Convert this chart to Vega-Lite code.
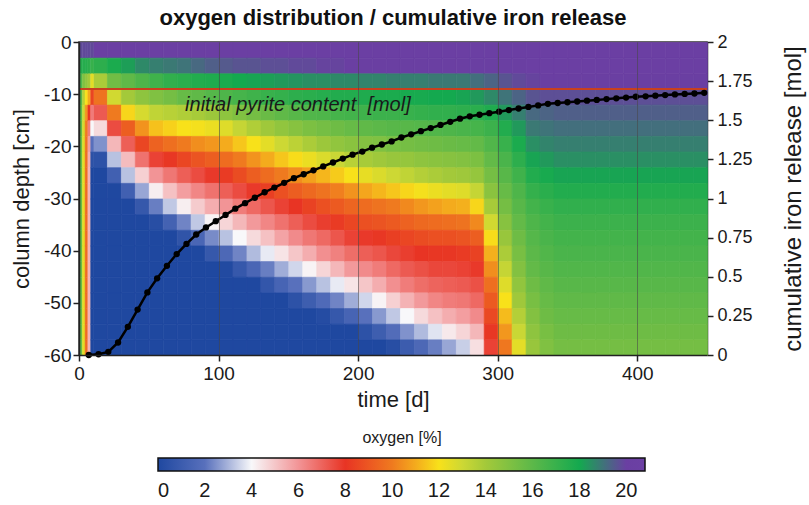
{
"$schema": "https://vega.github.io/schema/vega-lite/v6.json",
"width": 628, "height": 313,
"autosize": {"type": "none"},
"padding": {"left": 79, "top": 42, "right": 102, "bottom": 150},
"background": "white",
"title": {"text": "oxygen distribution / cumulative iron release", "fontSize": 22, "font": "Liberation Sans", "fontWeight": "bold", "color": "#111111", "anchor": "middle", "offset": 3},
"config": {
  "font": "Liberation Sans",
  "view": {"stroke": "#333333", "strokeWidth": 1.5},
  "axis": {"labelFont": "Liberation Sans", "titleFont": "Liberation Sans", "labelFontSize": 19, "titleFontSize": 22, "titleFontWeight": "normal", "labelColor": "#1a1a1a", "titleColor": "#1a1a1a", "domainColor": "#222222", "domainWidth": 1.5, "tickColor": "#222222", "tickWidth": 1.5, "tickSize": 6, "grid": false, "labelOverlap": false}
},
"datasets": {
"pyr": [{"v": 1.7}],
"lab": [{"t": 76, "v": 1.6, "label": "initial pyrite content\u00a0 [mol]"}],
"iron": [
{"t":7,"v":0},{"t":14,"v":0.005},{"t":21,"v":0.02},{"t":28,"v":0.08},{"t":35,"v":0.18},{"t":42,"v":0.29},{"t":49,"v":0.4},{"t":56,"v":0.49},{"t":63,"v":0.57},{"t":70,"v":0.645},{"t":77,"v":0.71},{"t":84,"v":0.77},{"t":91,"v":0.815},{"t":98,"v":0.855},{"t":105,"v":0.895},{"t":112,"v":0.935},{"t":119,"v":0.97},{"t":126,"v":1.005},{"t":133,"v":1.04},{"t":140,"v":1.07},{"t":147,"v":1.1},{"t":154,"v":1.13},{"t":161,"v":1.155},{"t":168,"v":1.18},{"t":175,"v":1.205},{"t":182,"v":1.23},{"t":189,"v":1.255},{"t":196,"v":1.28},{"t":203,"v":1.3},{"t":210,"v":1.325},{"t":217,"v":1.345},{"t":224,"v":1.365},{"t":231,"v":1.39},{"t":238,"v":1.41},{"t":245,"v":1.43},{"t":252,"v":1.45},{"t":259,"v":1.47},{"t":266,"v":1.49},{"t":273,"v":1.51},{"t":280,"v":1.525},{"t":287,"v":1.535},{"t":294,"v":1.545},{"t":301,"v":1.555},{"t":308,"v":1.565},{"t":315,"v":1.575},{"t":322,"v":1.585},{"t":329,"v":1.595},{"t":336,"v":1.605},{"t":343,"v":1.61},{"t":350,"v":1.615},{"t":357,"v":1.62},{"t":364,"v":1.625},{"t":371,"v":1.63},{"t":378,"v":1.635},{"t":385,"v":1.64},{"t":392,"v":1.645},{"t":399,"v":1.65},{"t":406,"v":1.653},{"t":413,"v":1.657},{"t":420,"v":1.661},{"t":427,"v":1.665},{"t":434,"v":1.668},{"t":441,"v":1.671},{"t":448,"v":1.675}
],
"strip": [
{"t":1,"d":-1.5,"o":19.8},{"t":1,"d":-4.5,"o":17.5},{"t":1,"d":-7.5,"o":16.5},{"t":1,"d":-10.5,"o":16.3},{"t":1,"d":-13.5,"o":16.2},{"t":1,"d":-16.5,"o":16.1},{"t":1,"d":-19.5,"o":16},{"t":1,"d":-22.5,"o":16},{"t":1,"d":-25.5,"o":16},{"t":1,"d":-28.5,"o":16},{"t":1,"d":-31.5,"o":16},{"t":1,"d":-34.5,"o":16},{"t":1,"d":-37.5,"o":16},{"t":1,"d":-40.5,"o":16},{"t":1,"d":-43.5,"o":16},{"t":1,"d":-46.5,"o":16},{"t":1,"d":-49.5,"o":16},{"t":1,"d":-52.5,"o":16},{"t":1,"d":-55.5,"o":16},{"t":1,"d":-58.5,"o":16},
{"t":3,"d":-1.5,"o":19.8},{"t":3,"d":-4.5,"o":17.5},{"t":3,"d":-7.5,"o":15},{"t":3,"d":-10.5,"o":13.5},{"t":3,"d":-13.5,"o":13},{"t":3,"d":-16.5,"o":12.8},{"t":3,"d":-19.5,"o":12.6},{"t":3,"d":-22.5,"o":12.5},{"t":3,"d":-25.5,"o":12.5},{"t":3,"d":-28.5,"o":12.5},{"t":3,"d":-31.5,"o":12.5},{"t":3,"d":-34.5,"o":12.5},{"t":3,"d":-37.5,"o":12.5},{"t":3,"d":-40.5,"o":12.5},{"t":3,"d":-43.5,"o":12.5},{"t":3,"d":-46.5,"o":12.5},{"t":3,"d":-49.5,"o":12.5},{"t":3,"d":-52.5,"o":12.5},{"t":3,"d":-55.5,"o":12.5},{"t":3,"d":-58.5,"o":12.5},
{"t":5,"d":-1.5,"o":19.8},{"t":5,"d":-4.5,"o":17.5},{"t":5,"d":-7.5,"o":14.5},{"t":5,"d":-10.5,"o":12},{"t":5,"d":-13.5,"o":10.5},{"t":5,"d":-16.5,"o":10},{"t":5,"d":-19.5,"o":9.8},{"t":5,"d":-22.5,"o":9.7},{"t":5,"d":-25.5,"o":9.6},{"t":5,"d":-28.5,"o":9.6},{"t":5,"d":-31.5,"o":9.6},{"t":5,"d":-34.5,"o":9.6},{"t":5,"d":-37.5,"o":9.6},{"t":5,"d":-40.5,"o":9.6},{"t":5,"d":-43.5,"o":9.6},{"t":5,"d":-46.5,"o":9.6},{"t":5,"d":-49.5,"o":9.6},{"t":5,"d":-52.5,"o":9.6},{"t":5,"d":-55.5,"o":9.6},{"t":5,"d":-58.5,"o":9.6},
{"t":7,"d":-1.5,"o":19.8},{"t":7,"d":-4.5,"o":17.3},{"t":7,"d":-7.5,"o":14},{"t":7,"d":-10.5,"o":11},{"t":7,"d":-13.5,"o":8},{"t":7,"d":-16.5,"o":6.5},{"t":7,"d":-19.5,"o":5.8},{"t":7,"d":-22.5,"o":5.5},{"t":7,"d":-25.5,"o":5.4},{"t":7,"d":-28.5,"o":5.4},{"t":7,"d":-31.5,"o":5.4},{"t":7,"d":-34.5,"o":5.4},{"t":7,"d":-37.5,"o":5.4},{"t":7,"d":-40.5,"o":5.4},{"t":7,"d":-43.5,"o":5.4},{"t":7,"d":-46.5,"o":5.4},{"t":7,"d":-49.5,"o":5.4},{"t":7,"d":-52.5,"o":5.4},{"t":7,"d":-55.5,"o":5.4},{"t":7,"d":-58.5,"o":5.4},
{"t":9,"d":-1.5,"o":19.8},{"t":9,"d":-4.5,"o":17},{"t":9,"d":-7.5,"o":12.5},{"t":9,"d":-10.5,"o":8.5},{"t":9,"d":-13.5,"o":6.5},{"t":9,"d":-16.5,"o":4},{"t":9,"d":-19.5,"o":2},{"t":9,"d":-22.5,"o":0.5},{"t":9,"d":-25.5,"o":0},{"t":9,"d":-28.5,"o":0},{"t":9,"d":-31.5,"o":0},{"t":9,"d":-34.5,"o":0},{"t":9,"d":-37.5,"o":0},{"t":9,"d":-40.5,"o":0},{"t":9,"d":-43.5,"o":0},{"t":9,"d":-46.5,"o":0},{"t":9,"d":-49.5,"o":0},{"t":9,"d":-52.5,"o":0},{"t":9,"d":-55.5,"o":0},{"t":9,"d":-58.5,"o":0}
],
"heat": [
{"t":15,"d":-1.5,"o":20.2},{"t":15,"d":-4.5,"o":17.3},{"t":15,"d":-7.5,"o":13.8},{"t":15,"d":-10.5,"o":9.8},{"t":15,"d":-13.5,"o":7.2},{"t":15,"d":-16.5,"o":4.6},{"t":15,"d":-19.5,"o":2.5},{"t":15,"d":-22.5,"o":0.5},{"t":15,"d":-25.5,"o":0},{"t":15,"d":-28.5,"o":0},{"t":15,"d":-31.5,"o":0},{"t":15,"d":-34.5,"o":0},{"t":15,"d":-37.5,"o":0},{"t":15,"d":-40.5,"o":0},{"t":15,"d":-43.5,"o":0},{"t":15,"d":-46.5,"o":0},{"t":15,"d":-49.5,"o":0},{"t":15,"d":-52.5,"o":0},{"t":15,"d":-55.5,"o":0},{"t":15,"d":-58.5,"o":0},
{"t":25,"d":-1.5,"o":20.2},{"t":25,"d":-4.5,"o":17.8},{"t":25,"d":-7.5,"o":15.4},{"t":25,"d":-10.5,"o":12.9},{"t":25,"d":-13.5,"o":10},{"t":25,"d":-16.5,"o":7.5},{"t":25,"d":-19.5,"o":5.3},{"t":25,"d":-22.5,"o":3.2},{"t":25,"d":-25.5,"o":1.2},{"t":25,"d":-28.5,"o":0},{"t":25,"d":-31.5,"o":0},{"t":25,"d":-34.5,"o":0},{"t":25,"d":-37.5,"o":0},{"t":25,"d":-40.5,"o":0},{"t":25,"d":-43.5,"o":0},{"t":25,"d":-46.5,"o":0},{"t":25,"d":-49.5,"o":0},{"t":25,"d":-52.5,"o":0},{"t":25,"d":-55.5,"o":0},{"t":25,"d":-58.5,"o":0},
{"t":35,"d":-1.5,"o":20.2},{"t":35,"d":-4.5,"o":18.2},{"t":35,"d":-7.5,"o":15.9},{"t":35,"d":-10.5,"o":14},{"t":35,"d":-13.5,"o":11.8},{"t":35,"d":-16.5,"o":9.2},{"t":35,"d":-19.5,"o":7.1},{"t":35,"d":-22.5,"o":5.2},{"t":35,"d":-25.5,"o":3.2},{"t":35,"d":-28.5,"o":1.2},{"t":35,"d":-31.5,"o":0},{"t":35,"d":-34.5,"o":0},{"t":35,"d":-37.5,"o":0},{"t":35,"d":-40.5,"o":0},{"t":35,"d":-43.5,"o":0},{"t":35,"d":-46.5,"o":0},{"t":35,"d":-49.5,"o":0},{"t":35,"d":-52.5,"o":0},{"t":35,"d":-55.5,"o":0},{"t":35,"d":-58.5,"o":0},
{"t":45,"d":-1.5,"o":20.2},{"t":45,"d":-4.5,"o":18.6},{"t":45,"d":-7.5,"o":16.4},{"t":45,"d":-10.5,"o":14.6},{"t":45,"d":-13.5,"o":12.8},{"t":45,"d":-16.5,"o":10.5},{"t":45,"d":-19.5,"o":8.5},{"t":45,"d":-22.5,"o":6.7},{"t":45,"d":-25.5,"o":4.8},{"t":45,"d":-28.5,"o":2.8},{"t":45,"d":-31.5,"o":0.8},{"t":45,"d":-34.5,"o":0},{"t":45,"d":-37.5,"o":0},{"t":45,"d":-40.5,"o":0},{"t":45,"d":-43.5,"o":0},{"t":45,"d":-46.5,"o":0},{"t":45,"d":-49.5,"o":0},{"t":45,"d":-52.5,"o":0},{"t":45,"d":-55.5,"o":0},{"t":45,"d":-58.5,"o":0},
{"t":55,"d":-1.5,"o":20.2},{"t":55,"d":-4.5,"o":18.8},{"t":55,"d":-7.5,"o":16.8},{"t":55,"d":-10.5,"o":15},{"t":55,"d":-13.5,"o":13.3},{"t":55,"d":-16.5,"o":11.4},{"t":55,"d":-19.5,"o":9.3},{"t":55,"d":-22.5,"o":7.7},{"t":55,"d":-25.5,"o":6},{"t":55,"d":-28.5,"o":4.2},{"t":55,"d":-31.5,"o":2.2},{"t":55,"d":-34.5,"o":0.3},{"t":55,"d":-37.5,"o":0},{"t":55,"d":-40.5,"o":0},{"t":55,"d":-43.5,"o":0},{"t":55,"d":-46.5,"o":0},{"t":55,"d":-49.5,"o":0},{"t":55,"d":-52.5,"o":0},{"t":55,"d":-55.5,"o":0},{"t":55,"d":-58.5,"o":0},
{"t":65,"d":-1.5,"o":20.2},{"t":65,"d":-4.5,"o":18.9},{"t":65,"d":-7.5,"o":17.2},{"t":65,"d":-10.5,"o":15.3},{"t":65,"d":-13.5,"o":13.5},{"t":65,"d":-16.5,"o":11.7},{"t":65,"d":-19.5,"o":9.7},{"t":65,"d":-22.5,"o":8.1},{"t":65,"d":-25.5,"o":6.6},{"t":65,"d":-28.5,"o":5.1},{"t":65,"d":-31.5,"o":3.3},{"t":65,"d":-34.5,"o":1.3},{"t":65,"d":-37.5,"o":0},{"t":65,"d":-40.5,"o":0},{"t":65,"d":-43.5,"o":0},{"t":65,"d":-46.5,"o":0},{"t":65,"d":-49.5,"o":0},{"t":65,"d":-52.5,"o":0},{"t":65,"d":-55.5,"o":0},{"t":65,"d":-58.5,"o":0},
{"t":75,"d":-1.5,"o":20.2},{"t":75,"d":-4.5,"o":19},{"t":75,"d":-7.5,"o":17.4},{"t":75,"d":-10.5,"o":15.7},{"t":75,"d":-13.5,"o":13.7},{"t":75,"d":-16.5,"o":12},{"t":75,"d":-19.5,"o":10},{"t":75,"d":-22.5,"o":8.5},{"t":75,"d":-25.5,"o":7.1},{"t":75,"d":-28.5,"o":5.8},{"t":75,"d":-31.5,"o":4.2},{"t":75,"d":-34.5,"o":2.3},{"t":75,"d":-37.5,"o":0.6},{"t":75,"d":-40.5,"o":0},{"t":75,"d":-43.5,"o":0},{"t":75,"d":-46.5,"o":0},{"t":75,"d":-49.5,"o":0},{"t":75,"d":-52.5,"o":0},{"t":75,"d":-55.5,"o":0},{"t":75,"d":-58.5,"o":0},
{"t":85,"d":-1.5,"o":20.2},{"t":85,"d":-4.5,"o":19.2},{"t":85,"d":-7.5,"o":17.6},{"t":85,"d":-10.5,"o":15.9},{"t":85,"d":-13.5,"o":13.9},{"t":85,"d":-16.5,"o":12.1},{"t":85,"d":-19.5,"o":10.4},{"t":85,"d":-22.5,"o":8.9},{"t":85,"d":-25.5,"o":7.5},{"t":85,"d":-28.5,"o":6.3},{"t":85,"d":-31.5,"o":4.9},{"t":85,"d":-34.5,"o":3.3},{"t":85,"d":-37.5,"o":1.5},{"t":85,"d":-40.5,"o":0},{"t":85,"d":-43.5,"o":0},{"t":85,"d":-46.5,"o":0},{"t":85,"d":-49.5,"o":0},{"t":85,"d":-52.5,"o":0},{"t":85,"d":-55.5,"o":0},{"t":85,"d":-58.5,"o":0},
{"t":95,"d":-1.5,"o":20.2},{"t":95,"d":-4.5,"o":19.4},{"t":95,"d":-7.5,"o":17.7},{"t":95,"d":-10.5,"o":16.2},{"t":95,"d":-13.5,"o":14.2},{"t":95,"d":-16.5,"o":12.3},{"t":95,"d":-19.5,"o":10.6},{"t":95,"d":-22.5,"o":9.2},{"t":95,"d":-25.5,"o":7.9},{"t":95,"d":-28.5,"o":6.7},{"t":95,"d":-31.5,"o":5.5},{"t":95,"d":-34.5,"o":4.1},{"t":95,"d":-37.5,"o":2.4},{"t":95,"d":-40.5,"o":0.8},{"t":95,"d":-43.5,"o":0},{"t":95,"d":-46.5,"o":0},{"t":95,"d":-49.5,"o":0},{"t":95,"d":-52.5,"o":0},{"t":95,"d":-55.5,"o":0},{"t":95,"d":-58.5,"o":0},
{"t":105,"d":-1.5,"o":20.2},{"t":105,"d":-4.5,"o":19.5},{"t":105,"d":-7.5,"o":17.8},{"t":105,"d":-10.5,"o":16.4},{"t":105,"d":-13.5,"o":14.6},{"t":105,"d":-16.5,"o":12.6},{"t":105,"d":-19.5,"o":11},{"t":105,"d":-22.5,"o":9.6},{"t":105,"d":-25.5,"o":8.2},{"t":105,"d":-28.5,"o":7.1},{"t":105,"d":-31.5,"o":6},{"t":105,"d":-34.5,"o":4.7},{"t":105,"d":-37.5,"o":3.2},{"t":105,"d":-40.5,"o":1.6},{"t":105,"d":-43.5,"o":0.1},{"t":105,"d":-46.5,"o":0},{"t":105,"d":-49.5,"o":0},{"t":105,"d":-52.5,"o":0},{"t":105,"d":-55.5,"o":0},{"t":105,"d":-58.5,"o":0},
{"t":115,"d":-1.5,"o":20.2},{"t":115,"d":-4.5,"o":19.6},{"t":115,"d":-7.5,"o":18},{"t":115,"d":-10.5,"o":16.6},{"t":115,"d":-13.5,"o":15},{"t":115,"d":-16.5,"o":13.2},{"t":115,"d":-19.5,"o":11.5},{"t":115,"d":-22.5,"o":10},{"t":115,"d":-25.5,"o":8.7},{"t":115,"d":-28.5,"o":7.5},{"t":115,"d":-31.5,"o":6.5},{"t":115,"d":-34.5,"o":5.3},{"t":115,"d":-37.5,"o":4},{"t":115,"d":-40.5,"o":2.3},{"t":115,"d":-43.5,"o":0.8},{"t":115,"d":-46.5,"o":0},{"t":115,"d":-49.5,"o":0},{"t":115,"d":-52.5,"o":0},{"t":115,"d":-55.5,"o":0},{"t":115,"d":-58.5,"o":0},
{"t":125,"d":-1.5,"o":20.2},{"t":125,"d":-4.5,"o":19.6},{"t":125,"d":-7.5,"o":18.1},{"t":125,"d":-10.5,"o":16.8},{"t":125,"d":-13.5,"o":15.3},{"t":125,"d":-16.5,"o":13.7},{"t":125,"d":-19.5,"o":12},{"t":125,"d":-22.5,"o":10.5},{"t":125,"d":-25.5,"o":9.2},{"t":125,"d":-28.5,"o":7.9},{"t":125,"d":-31.5,"o":6.9},{"t":125,"d":-34.5,"o":5.9},{"t":125,"d":-37.5,"o":4.6},{"t":125,"d":-40.5,"o":3.1},{"t":125,"d":-43.5,"o":1.5},{"t":125,"d":-46.5,"o":0},{"t":125,"d":-49.5,"o":0},{"t":125,"d":-52.5,"o":0},{"t":125,"d":-55.5,"o":0},{"t":125,"d":-58.5,"o":0},
{"t":135,"d":-1.5,"o":20.2},{"t":135,"d":-4.5,"o":19.7},{"t":135,"d":-7.5,"o":18.2},{"t":135,"d":-10.5,"o":17},{"t":135,"d":-13.5,"o":15.6},{"t":135,"d":-16.5,"o":14.1},{"t":135,"d":-19.5,"o":12.5},{"t":135,"d":-22.5,"o":11},{"t":135,"d":-25.5,"o":9.6},{"t":135,"d":-28.5,"o":8.3},{"t":135,"d":-31.5,"o":7.3},{"t":135,"d":-34.5,"o":6.3},{"t":135,"d":-37.5,"o":5.1},{"t":135,"d":-40.5,"o":3.8},{"t":135,"d":-43.5,"o":2.2},{"t":135,"d":-46.5,"o":0.7},{"t":135,"d":-49.5,"o":0},{"t":135,"d":-52.5,"o":0},{"t":135,"d":-55.5,"o":0},{"t":135,"d":-58.5,"o":0},
{"t":145,"d":-1.5,"o":20.2},{"t":145,"d":-4.5,"o":19.7},{"t":145,"d":-7.5,"o":18.3},{"t":145,"d":-10.5,"o":17.1},{"t":145,"d":-13.5,"o":15.9},{"t":145,"d":-16.5,"o":14.5},{"t":145,"d":-19.5,"o":13},{"t":145,"d":-22.5,"o":11.5},{"t":145,"d":-25.5,"o":10},{"t":145,"d":-28.5,"o":8.8},{"t":145,"d":-31.5,"o":7.7},{"t":145,"d":-34.5,"o":6.7},{"t":145,"d":-37.5,"o":5.7},{"t":145,"d":-40.5,"o":4.4},{"t":145,"d":-43.5,"o":2.9},{"t":145,"d":-46.5,"o":1.4},{"t":145,"d":-49.5,"o":0},{"t":145,"d":-52.5,"o":0},{"t":145,"d":-55.5,"o":0},{"t":145,"d":-58.5,"o":0},
{"t":155,"d":-1.5,"o":20.2},{"t":155,"d":-4.5,"o":19.8},{"t":155,"d":-7.5,"o":18.4},{"t":155,"d":-10.5,"o":17.3},{"t":155,"d":-13.5,"o":16.1},{"t":155,"d":-16.5,"o":14.8},{"t":155,"d":-19.5,"o":13.4},{"t":155,"d":-22.5,"o":11.9},{"t":155,"d":-25.5,"o":10.4},{"t":155,"d":-28.5,"o":9.2},{"t":155,"d":-31.5,"o":8},{"t":155,"d":-34.5,"o":7.1},{"t":155,"d":-37.5,"o":6.2},{"t":155,"d":-40.5,"o":5},{"t":155,"d":-43.5,"o":3.5},{"t":155,"d":-46.5,"o":2},{"t":155,"d":-49.5,"o":0.5},{"t":155,"d":-52.5,"o":0},{"t":155,"d":-55.5,"o":0},{"t":155,"d":-58.5,"o":0},
{"t":165,"d":-1.5,"o":20.2},{"t":165,"d":-4.5,"o":19.8},{"t":165,"d":-7.5,"o":18.5},{"t":165,"d":-10.5,"o":17.4},{"t":165,"d":-13.5,"o":16.3},{"t":165,"d":-16.5,"o":15.1},{"t":165,"d":-19.5,"o":13.8},{"t":165,"d":-22.5,"o":12.3},{"t":165,"d":-25.5,"o":10.8},{"t":165,"d":-28.5,"o":9.5},{"t":165,"d":-31.5,"o":8.4},{"t":165,"d":-34.5,"o":7.5},{"t":165,"d":-37.5,"o":6.6},{"t":165,"d":-40.5,"o":5.5},{"t":165,"d":-43.5,"o":4.1},{"t":165,"d":-46.5,"o":2.6},{"t":165,"d":-49.5,"o":1.1},{"t":165,"d":-52.5,"o":0},{"t":165,"d":-55.5,"o":0},{"t":165,"d":-58.5,"o":0},
{"t":175,"d":-1.5,"o":20.2},{"t":175,"d":-4.5,"o":19.9},{"t":175,"d":-7.5,"o":18.5},{"t":175,"d":-10.5,"o":17.5},{"t":175,"d":-13.5,"o":16.4},{"t":175,"d":-16.5,"o":15.3},{"t":175,"d":-19.5,"o":14.2},{"t":175,"d":-22.5,"o":12.7},{"t":175,"d":-25.5,"o":11.2},{"t":175,"d":-28.5,"o":9.8},{"t":175,"d":-31.5,"o":8.8},{"t":175,"d":-34.5,"o":7.8},{"t":175,"d":-37.5,"o":6.9},{"t":175,"d":-40.5,"o":6.1},{"t":175,"d":-43.5,"o":4.7},{"t":175,"d":-46.5,"o":3.2},{"t":175,"d":-49.5,"o":1.7},{"t":175,"d":-52.5,"o":0.2},{"t":175,"d":-55.5,"o":0},{"t":175,"d":-58.5,"o":0},
{"t":185,"d":-1.5,"o":20.2},{"t":185,"d":-4.5,"o":19.9},{"t":185,"d":-7.5,"o":18.6},{"t":185,"d":-10.5,"o":17.6},{"t":185,"d":-13.5,"o":16.6},{"t":185,"d":-16.5,"o":15.5},{"t":185,"d":-19.5,"o":14.5},{"t":185,"d":-22.5,"o":13.1},{"t":185,"d":-25.5,"o":11.6},{"t":185,"d":-28.5,"o":10.1},{"t":185,"d":-31.5,"o":9.1},{"t":185,"d":-34.5,"o":8.2},{"t":185,"d":-37.5,"o":7.3},{"t":185,"d":-40.5,"o":6.4},{"t":185,"d":-43.5,"o":5.3},{"t":185,"d":-46.5,"o":3.8},{"t":185,"d":-49.5,"o":2.3},{"t":185,"d":-52.5,"o":0.8},{"t":185,"d":-55.5,"o":0},{"t":185,"d":-58.5,"o":0},
{"t":195,"d":-1.5,"o":20.2},{"t":195,"d":-4.5,"o":20},{"t":195,"d":-7.5,"o":18.6},{"t":195,"d":-10.5,"o":17.6},{"t":195,"d":-13.5,"o":16.7},{"t":195,"d":-16.5,"o":15.7},{"t":195,"d":-19.5,"o":14.7},{"t":195,"d":-22.5,"o":13.5},{"t":195,"d":-25.5,"o":12},{"t":195,"d":-28.5,"o":10.5},{"t":195,"d":-31.5,"o":9.4},{"t":195,"d":-34.5,"o":8.5},{"t":195,"d":-37.5,"o":7.7},{"t":195,"d":-40.5,"o":6.8},{"t":195,"d":-43.5,"o":5.9},{"t":195,"d":-46.5,"o":4.4},{"t":195,"d":-49.5,"o":2.9},{"t":195,"d":-52.5,"o":1.4},{"t":195,"d":-55.5,"o":0},{"t":195,"d":-58.5,"o":0},
{"t":205,"d":-1.5,"o":20.2},{"t":205,"d":-4.5,"o":20},{"t":205,"d":-7.5,"o":18.7},{"t":205,"d":-10.5,"o":17.7},{"t":205,"d":-13.5,"o":16.8},{"t":205,"d":-16.5,"o":15.9},{"t":205,"d":-19.5,"o":14.9},{"t":205,"d":-22.5,"o":13.9},{"t":205,"d":-25.5,"o":12.4},{"t":205,"d":-28.5,"o":10.9},{"t":205,"d":-31.5,"o":9.6},{"t":205,"d":-34.5,"o":8.8},{"t":205,"d":-37.5,"o":7.9},{"t":205,"d":-40.5,"o":7.1},{"t":205,"d":-43.5,"o":6.2},{"t":205,"d":-46.5,"o":5},{"t":205,"d":-49.5,"o":3.5},{"t":205,"d":-52.5,"o":2},{"t":205,"d":-55.5,"o":0.5},{"t":205,"d":-58.5,"o":0},
{"t":215,"d":-1.5,"o":20.2},{"t":215,"d":-4.5,"o":20},{"t":215,"d":-7.5,"o":18.7},{"t":215,"d":-10.5,"o":17.8},{"t":215,"d":-13.5,"o":16.9},{"t":215,"d":-16.5,"o":16},{"t":215,"d":-19.5,"o":15},{"t":215,"d":-22.5,"o":14.1},{"t":215,"d":-25.5,"o":12.7},{"t":215,"d":-28.5,"o":11.2},{"t":215,"d":-31.5,"o":9.8},{"t":215,"d":-34.5,"o":8.9},{"t":215,"d":-37.5,"o":8.1},{"t":215,"d":-40.5,"o":7.3},{"t":215,"d":-43.5,"o":6.5},{"t":215,"d":-46.5,"o":5.5},{"t":215,"d":-49.5,"o":4.1},{"t":215,"d":-52.5,"o":2.6},{"t":215,"d":-55.5,"o":1.1},{"t":215,"d":-58.5,"o":0},
{"t":225,"d":-1.5,"o":20.2},{"t":225,"d":-4.5,"o":20},{"t":225,"d":-7.5,"o":18.8},{"t":225,"d":-10.5,"o":17.8},{"t":225,"d":-13.5,"o":16.9},{"t":225,"d":-16.5,"o":16.1},{"t":225,"d":-19.5,"o":15.2},{"t":225,"d":-22.5,"o":14.3},{"t":225,"d":-25.5,"o":13},{"t":225,"d":-28.5,"o":11.5},{"t":225,"d":-31.5,"o":10},{"t":225,"d":-34.5,"o":9.1},{"t":225,"d":-37.5,"o":8.3},{"t":225,"d":-40.5,"o":7.6},{"t":225,"d":-43.5,"o":6.9},{"t":225,"d":-46.5,"o":6.1},{"t":225,"d":-49.5,"o":4.8},{"t":225,"d":-52.5,"o":3.3},{"t":225,"d":-55.5,"o":1.8},{"t":225,"d":-58.5,"o":0.3},
{"t":235,"d":-1.5,"o":20.2},{"t":235,"d":-4.5,"o":20},{"t":235,"d":-7.5,"o":18.8},{"t":235,"d":-10.5,"o":17.9},{"t":235,"d":-13.5,"o":17},{"t":235,"d":-16.5,"o":16.1},{"t":235,"d":-19.5,"o":15.3},{"t":235,"d":-22.5,"o":14.4},{"t":235,"d":-25.5,"o":13.3},{"t":235,"d":-28.5,"o":11.8},{"t":235,"d":-31.5,"o":10.3},{"t":235,"d":-34.5,"o":9.3},{"t":235,"d":-37.5,"o":8.5},{"t":235,"d":-40.5,"o":7.8},{"t":235,"d":-43.5,"o":7.2},{"t":235,"d":-46.5,"o":6.5},{"t":235,"d":-49.5,"o":5.4},{"t":235,"d":-52.5,"o":4},{"t":235,"d":-55.5,"o":2.5},{"t":235,"d":-58.5,"o":1},
{"t":245,"d":-1.5,"o":20.2},{"t":245,"d":-4.5,"o":20},{"t":245,"d":-7.5,"o":18.8},{"t":245,"d":-10.5,"o":17.9},{"t":245,"d":-13.5,"o":17.1},{"t":245,"d":-16.5,"o":16.2},{"t":245,"d":-19.5,"o":15.4},{"t":245,"d":-22.5,"o":14.6},{"t":245,"d":-25.5,"o":13.6},{"t":245,"d":-28.5,"o":12.1},{"t":245,"d":-31.5,"o":10.6},{"t":245,"d":-34.5,"o":9.5},{"t":245,"d":-37.5,"o":8.7},{"t":245,"d":-40.5,"o":8},{"t":245,"d":-43.5,"o":7.4},{"t":245,"d":-46.5,"o":6.8},{"t":245,"d":-49.5,"o":5.9},{"t":245,"d":-52.5,"o":4.6},{"t":245,"d":-55.5,"o":3.1},{"t":245,"d":-58.5,"o":1.6},
{"t":255,"d":-1.5,"o":20.2},{"t":255,"d":-4.5,"o":20.1},{"t":255,"d":-7.5,"o":18.9},{"t":255,"d":-10.5,"o":18},{"t":255,"d":-13.5,"o":17.2},{"t":255,"d":-16.5,"o":16.3},{"t":255,"d":-19.5,"o":15.5},{"t":255,"d":-22.5,"o":14.7},{"t":255,"d":-25.5,"o":13.8},{"t":255,"d":-28.5,"o":12.3},{"t":255,"d":-31.5,"o":10.8},{"t":255,"d":-34.5,"o":9.6},{"t":255,"d":-37.5,"o":8.8},{"t":255,"d":-40.5,"o":8.1},{"t":255,"d":-43.5,"o":7.6},{"t":255,"d":-46.5,"o":7},{"t":255,"d":-49.5,"o":6.3},{"t":255,"d":-52.5,"o":5.1},{"t":255,"d":-55.5,"o":3.7},{"t":255,"d":-58.5,"o":2.2},
{"t":265,"d":-1.5,"o":20.2},{"t":265,"d":-4.5,"o":20.1},{"t":265,"d":-7.5,"o":18.9},{"t":265,"d":-10.5,"o":18},{"t":265,"d":-13.5,"o":17.2},{"t":265,"d":-16.5,"o":16.4},{"t":265,"d":-19.5,"o":15.6},{"t":265,"d":-22.5,"o":14.8},{"t":265,"d":-25.5,"o":14},{"t":265,"d":-28.5,"o":12.5},{"t":265,"d":-31.5,"o":11},{"t":265,"d":-34.5,"o":9.7},{"t":265,"d":-37.5,"o":8.8},{"t":265,"d":-40.5,"o":8.1},{"t":265,"d":-43.5,"o":7.6},{"t":265,"d":-46.5,"o":7.1},{"t":265,"d":-49.5,"o":6.5},{"t":265,"d":-52.5,"o":5.5},{"t":265,"d":-55.5,"o":4.3},{"t":265,"d":-58.5,"o":2.8},
{"t":275,"d":-1.5,"o":20.2},{"t":275,"d":-4.5,"o":20.1},{"t":275,"d":-7.5,"o":18.9},{"t":275,"d":-10.5,"o":18.1},{"t":275,"d":-13.5,"o":17.3},{"t":275,"d":-16.5,"o":16.5},{"t":275,"d":-19.5,"o":15.7},{"t":275,"d":-22.5,"o":14.9},{"t":275,"d":-25.5,"o":14.1},{"t":275,"d":-28.5,"o":12.6},{"t":275,"d":-31.5,"o":11.1},{"t":275,"d":-34.5,"o":9.8},{"t":275,"d":-37.5,"o":8.9},{"t":275,"d":-40.5,"o":8.2},{"t":275,"d":-43.5,"o":7.7},{"t":275,"d":-46.5,"o":7.2},{"t":275,"d":-49.5,"o":6.6},{"t":275,"d":-52.5,"o":5.8},{"t":275,"d":-55.5,"o":4.7},{"t":275,"d":-58.5,"o":3.4},
{"t":285,"d":-1.5,"o":20.2},{"t":285,"d":-4.5,"o":20.1},{"t":285,"d":-7.5,"o":19.1},{"t":285,"d":-10.5,"o":18.3},{"t":285,"d":-13.5,"o":17.4},{"t":285,"d":-16.5,"o":16.6},{"t":285,"d":-19.5,"o":15.8},{"t":285,"d":-22.5,"o":15.1},{"t":285,"d":-25.5,"o":14.4},{"t":285,"d":-28.5,"o":13.2},{"t":285,"d":-31.5,"o":11.8},{"t":285,"d":-34.5,"o":10.3},{"t":285,"d":-37.5,"o":9.2},{"t":285,"d":-40.5,"o":8.4},{"t":285,"d":-43.5,"o":7.9},{"t":285,"d":-46.5,"o":7.4},{"t":285,"d":-49.5,"o":6.9},{"t":285,"d":-52.5,"o":6.2},{"t":285,"d":-55.5,"o":5.3},{"t":285,"d":-58.5,"o":4.5},
{"t":295,"d":-1.5,"o":20.2},{"t":295,"d":-4.5,"o":20.1},{"t":295,"d":-7.5,"o":19.3},{"t":295,"d":-10.5,"o":18.6},{"t":295,"d":-13.5,"o":17.7},{"t":295,"d":-16.5,"o":16.9},{"t":295,"d":-19.5,"o":16.3},{"t":295,"d":-22.5,"o":15.8},{"t":295,"d":-25.5,"o":15.3},{"t":295,"d":-28.5,"o":14.7},{"t":295,"d":-31.5,"o":13.9},{"t":295,"d":-34.5,"o":12.9},{"t":295,"d":-37.5,"o":11.9},{"t":295,"d":-40.5,"o":11.1},{"t":295,"d":-43.5,"o":10.4},{"t":295,"d":-46.5,"o":9.7},{"t":295,"d":-49.5,"o":9.1},{"t":295,"d":-52.5,"o":8.6},{"t":295,"d":-55.5,"o":8.1},{"t":295,"d":-58.5,"o":7.7},
{"t":305,"d":-1.5,"o":20.2},{"t":305,"d":-4.5,"o":20.1},{"t":305,"d":-7.5,"o":19.6},{"t":305,"d":-10.5,"o":19},{"t":305,"d":-13.5,"o":18.3},{"t":305,"d":-16.5,"o":17.6},{"t":305,"d":-19.5,"o":17},{"t":305,"d":-22.5,"o":16.5},{"t":305,"d":-25.5,"o":16.1},{"t":305,"d":-28.5,"o":15.7},{"t":305,"d":-31.5,"o":15.3},{"t":305,"d":-34.5,"o":14.8},{"t":305,"d":-37.5,"o":14.3},{"t":305,"d":-40.5,"o":13.8},{"t":305,"d":-43.5,"o":13.2},{"t":305,"d":-46.5,"o":12.6},{"t":305,"d":-49.5,"o":12},{"t":305,"d":-52.5,"o":11.3},{"t":305,"d":-55.5,"o":10.6},{"t":305,"d":-58.5,"o":9.9},
{"t":315,"d":-1.5,"o":20.2},{"t":315,"d":-4.5,"o":20.1},{"t":315,"d":-7.5,"o":19.8},{"t":315,"d":-10.5,"o":19.3},{"t":315,"d":-13.5,"o":18.8},{"t":315,"d":-16.5,"o":18.3},{"t":315,"d":-19.5,"o":17.8},{"t":315,"d":-22.5,"o":17.3},{"t":315,"d":-25.5,"o":16.8},{"t":315,"d":-28.5,"o":16.4},{"t":315,"d":-31.5,"o":16.1},{"t":315,"d":-34.5,"o":15.8},{"t":315,"d":-37.5,"o":15.5},{"t":315,"d":-40.5,"o":15.2},{"t":315,"d":-43.5,"o":14.9},{"t":315,"d":-46.5,"o":14.5},{"t":315,"d":-49.5,"o":14.1},{"t":315,"d":-52.5,"o":13.6},{"t":315,"d":-55.5,"o":13.1},{"t":315,"d":-58.5,"o":12.5},
{"t":325,"d":-1.5,"o":20.3},{"t":325,"d":-4.5,"o":20.2},{"t":325,"d":-7.5,"o":19.9},{"t":325,"d":-10.5,"o":19.6},{"t":325,"d":-13.5,"o":19.2},{"t":325,"d":-16.5,"o":18.9},{"t":325,"d":-19.5,"o":18.5},{"t":325,"d":-22.5,"o":18.1},{"t":325,"d":-25.5,"o":17.6},{"t":325,"d":-28.5,"o":17.1},{"t":325,"d":-31.5,"o":16.7},{"t":325,"d":-34.5,"o":16.4},{"t":325,"d":-37.5,"o":16.2},{"t":325,"d":-40.5,"o":16},{"t":325,"d":-43.5,"o":15.8},{"t":325,"d":-46.5,"o":15.5},{"t":325,"d":-49.5,"o":15.2},{"t":325,"d":-52.5,"o":14.9},{"t":325,"d":-55.5,"o":14.6},{"t":325,"d":-58.5,"o":14.3},
{"t":335,"d":-1.5,"o":20.3},{"t":335,"d":-4.5,"o":20.2},{"t":335,"d":-7.5,"o":20},{"t":335,"d":-10.5,"o":19.7},{"t":335,"d":-13.5,"o":19.3},{"t":335,"d":-16.5,"o":19},{"t":335,"d":-19.5,"o":18.7},{"t":335,"d":-22.5,"o":18.3},{"t":335,"d":-25.5,"o":17.9},{"t":335,"d":-28.5,"o":17.4},{"t":335,"d":-31.5,"o":17},{"t":335,"d":-34.5,"o":16.7},{"t":335,"d":-37.5,"o":16.5},{"t":335,"d":-40.5,"o":16.3},{"t":335,"d":-43.5,"o":16.1},{"t":335,"d":-46.5,"o":15.9},{"t":335,"d":-49.5,"o":15.7},{"t":335,"d":-52.5,"o":15.5},{"t":335,"d":-55.5,"o":15.2},{"t":335,"d":-58.5,"o":15},
{"t":345,"d":-1.5,"o":20.3},{"t":345,"d":-4.5,"o":20.2},{"t":345,"d":-7.5,"o":20},{"t":345,"d":-10.5,"o":19.7},{"t":345,"d":-13.5,"o":19.4},{"t":345,"d":-16.5,"o":19.1},{"t":345,"d":-19.5,"o":18.8},{"t":345,"d":-22.5,"o":18.5},{"t":345,"d":-25.5,"o":18.1},{"t":345,"d":-28.5,"o":17.6},{"t":345,"d":-31.5,"o":17.2},{"t":345,"d":-34.5,"o":16.9},{"t":345,"d":-37.5,"o":16.7},{"t":345,"d":-40.5,"o":16.5},{"t":345,"d":-43.5,"o":16.3},{"t":345,"d":-46.5,"o":16.1},{"t":345,"d":-49.5,"o":15.9},{"t":345,"d":-52.5,"o":15.7},{"t":345,"d":-55.5,"o":15.5},{"t":345,"d":-58.5,"o":15.3},
{"t":355,"d":-1.5,"o":20.3},{"t":355,"d":-4.5,"o":20.2},{"t":355,"d":-7.5,"o":20},{"t":355,"d":-10.5,"o":19.7},{"t":355,"d":-13.5,"o":19.4},{"t":355,"d":-16.5,"o":19.1},{"t":355,"d":-19.5,"o":18.8},{"t":355,"d":-22.5,"o":18.5},{"t":355,"d":-25.5,"o":18.1},{"t":355,"d":-28.5,"o":17.6},{"t":355,"d":-31.5,"o":17.2},{"t":355,"d":-34.5,"o":16.9},{"t":355,"d":-37.5,"o":16.7},{"t":355,"d":-40.5,"o":16.5},{"t":355,"d":-43.5,"o":16.3},{"t":355,"d":-46.5,"o":16.1},{"t":355,"d":-49.5,"o":15.9},{"t":355,"d":-52.5,"o":15.7},{"t":355,"d":-55.5,"o":15.5},{"t":355,"d":-58.5,"o":15.3},
{"t":365,"d":-1.5,"o":20.3},{"t":365,"d":-4.5,"o":20.2},{"t":365,"d":-7.5,"o":20},{"t":365,"d":-10.5,"o":19.7},{"t":365,"d":-13.5,"o":19.4},{"t":365,"d":-16.5,"o":19.1},{"t":365,"d":-19.5,"o":18.8},{"t":365,"d":-22.5,"o":18.5},{"t":365,"d":-25.5,"o":18.1},{"t":365,"d":-28.5,"o":17.6},{"t":365,"d":-31.5,"o":17.2},{"t":365,"d":-34.5,"o":16.9},{"t":365,"d":-37.5,"o":16.7},{"t":365,"d":-40.5,"o":16.5},{"t":365,"d":-43.5,"o":16.3},{"t":365,"d":-46.5,"o":16.1},{"t":365,"d":-49.5,"o":15.9},{"t":365,"d":-52.5,"o":15.7},{"t":365,"d":-55.5,"o":15.5},{"t":365,"d":-58.5,"o":15.3},
{"t":375,"d":-1.5,"o":20.3},{"t":375,"d":-4.5,"o":20.2},{"t":375,"d":-7.5,"o":20},{"t":375,"d":-10.5,"o":19.7},{"t":375,"d":-13.5,"o":19.4},{"t":375,"d":-16.5,"o":19.1},{"t":375,"d":-19.5,"o":18.8},{"t":375,"d":-22.5,"o":18.5},{"t":375,"d":-25.5,"o":18.1},{"t":375,"d":-28.5,"o":17.6},{"t":375,"d":-31.5,"o":17.2},{"t":375,"d":-34.5,"o":16.9},{"t":375,"d":-37.5,"o":16.7},{"t":375,"d":-40.5,"o":16.5},{"t":375,"d":-43.5,"o":16.3},{"t":375,"d":-46.5,"o":16.1},{"t":375,"d":-49.5,"o":15.9},{"t":375,"d":-52.5,"o":15.7},{"t":375,"d":-55.5,"o":15.5},{"t":375,"d":-58.5,"o":15.3},
{"t":385,"d":-1.5,"o":20.3},{"t":385,"d":-4.5,"o":20.2},{"t":385,"d":-7.5,"o":20},{"t":385,"d":-10.5,"o":19.7},{"t":385,"d":-13.5,"o":19.4},{"t":385,"d":-16.5,"o":19.1},{"t":385,"d":-19.5,"o":18.8},{"t":385,"d":-22.5,"o":18.5},{"t":385,"d":-25.5,"o":18.1},{"t":385,"d":-28.5,"o":17.6},{"t":385,"d":-31.5,"o":17.2},{"t":385,"d":-34.5,"o":16.9},{"t":385,"d":-37.5,"o":16.7},{"t":385,"d":-40.5,"o":16.5},{"t":385,"d":-43.5,"o":16.3},{"t":385,"d":-46.5,"o":16.1},{"t":385,"d":-49.5,"o":15.9},{"t":385,"d":-52.5,"o":15.7},{"t":385,"d":-55.5,"o":15.5},{"t":385,"d":-58.5,"o":15.3},
{"t":395,"d":-1.5,"o":20.3},{"t":395,"d":-4.5,"o":20.2},{"t":395,"d":-7.5,"o":20},{"t":395,"d":-10.5,"o":19.7},{"t":395,"d":-13.5,"o":19.4},{"t":395,"d":-16.5,"o":19.1},{"t":395,"d":-19.5,"o":18.8},{"t":395,"d":-22.5,"o":18.5},{"t":395,"d":-25.5,"o":18.1},{"t":395,"d":-28.5,"o":17.6},{"t":395,"d":-31.5,"o":17.2},{"t":395,"d":-34.5,"o":16.9},{"t":395,"d":-37.5,"o":16.7},{"t":395,"d":-40.5,"o":16.5},{"t":395,"d":-43.5,"o":16.3},{"t":395,"d":-46.5,"o":16.1},{"t":395,"d":-49.5,"o":15.9},{"t":395,"d":-52.5,"o":15.7},{"t":395,"d":-55.5,"o":15.5},{"t":395,"d":-58.5,"o":15.3},
{"t":405,"d":-1.5,"o":20.3},{"t":405,"d":-4.5,"o":20.2},{"t":405,"d":-7.5,"o":20},{"t":405,"d":-10.5,"o":19.7},{"t":405,"d":-13.5,"o":19.4},{"t":405,"d":-16.5,"o":19.1},{"t":405,"d":-19.5,"o":18.8},{"t":405,"d":-22.5,"o":18.5},{"t":405,"d":-25.5,"o":18.1},{"t":405,"d":-28.5,"o":17.6},{"t":405,"d":-31.5,"o":17.2},{"t":405,"d":-34.5,"o":16.9},{"t":405,"d":-37.5,"o":16.7},{"t":405,"d":-40.5,"o":16.5},{"t":405,"d":-43.5,"o":16.3},{"t":405,"d":-46.5,"o":16.1},{"t":405,"d":-49.5,"o":15.9},{"t":405,"d":-52.5,"o":15.7},{"t":405,"d":-55.5,"o":15.5},{"t":405,"d":-58.5,"o":15.3},
{"t":415,"d":-1.5,"o":20.3},{"t":415,"d":-4.5,"o":20.2},{"t":415,"d":-7.5,"o":20},{"t":415,"d":-10.5,"o":19.7},{"t":415,"d":-13.5,"o":19.4},{"t":415,"d":-16.5,"o":19.1},{"t":415,"d":-19.5,"o":18.8},{"t":415,"d":-22.5,"o":18.5},{"t":415,"d":-25.5,"o":18.1},{"t":415,"d":-28.5,"o":17.6},{"t":415,"d":-31.5,"o":17.2},{"t":415,"d":-34.5,"o":16.9},{"t":415,"d":-37.5,"o":16.7},{"t":415,"d":-40.5,"o":16.5},{"t":415,"d":-43.5,"o":16.3},{"t":415,"d":-46.5,"o":16.1},{"t":415,"d":-49.5,"o":15.9},{"t":415,"d":-52.5,"o":15.7},{"t":415,"d":-55.5,"o":15.5},{"t":415,"d":-58.5,"o":15.3},
{"t":425,"d":-1.5,"o":20.3},{"t":425,"d":-4.5,"o":20.2},{"t":425,"d":-7.5,"o":20},{"t":425,"d":-10.5,"o":19.7},{"t":425,"d":-13.5,"o":19.4},{"t":425,"d":-16.5,"o":19.1},{"t":425,"d":-19.5,"o":18.8},{"t":425,"d":-22.5,"o":18.5},{"t":425,"d":-25.5,"o":18.1},{"t":425,"d":-28.5,"o":17.6},{"t":425,"d":-31.5,"o":17.2},{"t":425,"d":-34.5,"o":16.9},{"t":425,"d":-37.5,"o":16.7},{"t":425,"d":-40.5,"o":16.5},{"t":425,"d":-43.5,"o":16.3},{"t":425,"d":-46.5,"o":16.1},{"t":425,"d":-49.5,"o":15.9},{"t":425,"d":-52.5,"o":15.7},{"t":425,"d":-55.5,"o":15.5},{"t":425,"d":-58.5,"o":15.3},
{"t":435,"d":-1.5,"o":20.3},{"t":435,"d":-4.5,"o":20.2},{"t":435,"d":-7.5,"o":20},{"t":435,"d":-10.5,"o":19.7},{"t":435,"d":-13.5,"o":19.4},{"t":435,"d":-16.5,"o":19.1},{"t":435,"d":-19.5,"o":18.8},{"t":435,"d":-22.5,"o":18.5},{"t":435,"d":-25.5,"o":18.1},{"t":435,"d":-28.5,"o":17.6},{"t":435,"d":-31.5,"o":17.2},{"t":435,"d":-34.5,"o":16.9},{"t":435,"d":-37.5,"o":16.7},{"t":435,"d":-40.5,"o":16.5},{"t":435,"d":-43.5,"o":16.3},{"t":435,"d":-46.5,"o":16.1},{"t":435,"d":-49.5,"o":15.9},{"t":435,"d":-52.5,"o":15.7},{"t":435,"d":-55.5,"o":15.5},{"t":435,"d":-58.5,"o":15.3},
{"t":445,"d":-1.5,"o":20.3},{"t":445,"d":-4.5,"o":20.2},{"t":445,"d":-7.5,"o":20},{"t":445,"d":-10.5,"o":19.7},{"t":445,"d":-13.5,"o":19.4},{"t":445,"d":-16.5,"o":19.1},{"t":445,"d":-19.5,"o":18.8},{"t":445,"d":-22.5,"o":18.5},{"t":445,"d":-25.5,"o":18.1},{"t":445,"d":-28.5,"o":17.6},{"t":445,"d":-31.5,"o":17.2},{"t":445,"d":-34.5,"o":16.9},{"t":445,"d":-37.5,"o":16.7},{"t":445,"d":-40.5,"o":16.5},{"t":445,"d":-43.5,"o":16.3},{"t":445,"d":-46.5,"o":16.1},{"t":445,"d":-49.5,"o":15.9},{"t":445,"d":-52.5,"o":15.7},{"t":445,"d":-55.5,"o":15.5},{"t":445,"d":-58.5,"o":15.3}
]
},
"layer": [
  {"layer": [
    {"data": {"name": "heat"},
     "mark": {"type": "rect", "binSpacing": 0, "strokeWidth": 0.7},
     "encoding": {
       "x": {"field": "t", "type": "quantitative", "bin": {"step": 10, "extent": [0, 450], "nice": false}, "scale": {"domain": [0, 450], "nice": false, "zero": false}, "title": "time [d]",
             "axis": {"values": [0, 100, 200, 300, 400], "labelFlush": false, "grid": true, "gridColor": "#444444", "gridOpacity": 0.55, "gridWidth": 1, "zindex": 1, "labelPadding": 3, "titlePadding": 6, "labelExpr": "'' + datum.value"}},
       "y": {"field": "d", "type": "quantitative", "bin": {"step": 3, "extent": [-60, 0], "nice": false}, "scale": {"domain": [-60, 0], "nice": false, "zero": false}, "title": "column depth [cm]",
             "axis": {"orient": "left", "values": [0, -10, -20, -30, -40, -50, -60], "labelExpr": "'' + datum.value", "labelPadding": 2, "titlePadding": 10, "zindex": 1}},
       "color": {"field": "o", "type": "quantitative",
         "scale": {"type": "linear", "domain": [0, 2, 4, 6, 8, 10, 11, 12, 13, 14, 16, 18, 20, 20.8], "range": ["#1f48a0", "#5870bc", "#f8f8fa", "#f29496", "#e83424", "#ef7a1f", "#f4ab1d", "#f8e11a", "#cdd834", "#a3c93a", "#5cb849", "#14a94f", "#6a3fa2", "#6c40a4"], "interpolate": "rgb", "clamp": true, "zero": false, "nice": false},
         "legend": {"type": "gradient", "title": "oxygen [%]", "orient": "none", "direction": "horizontal", "legendX": 79, "legendY": 388, "gradientLength": 487, "gradientThickness": 13, "gradientStrokeColor": "#111111", "gradientStrokeWidth": 1.5, "values": [0, 2, 4, 6, 8, 10, 12, 14, 16, 18, 20], "labelFontSize": 20, "labelFont": "Liberation Sans", "labelColor": "#1a1a1a", "labelOffset": 10, "labelAlign": "center", "labelOverlap": false, "titleFontSize": 16, "titleFont": "Liberation Sans", "titleFontWeight": "normal", "titleColor": "#1a1a1a", "titleAnchor": "middle", "titlePadding": 12, "padding": 0}},
       "stroke": {"field": "o", "type": "quantitative",
         "scale": {"type": "linear", "domain": [0, 2, 4, 6, 8, 10, 11, 12, 13, 14, 16, 18, 20, 20.81], "range": ["#1f48a0", "#5870bc", "#f8f8fa", "#f29496", "#e83424", "#ef7a1f", "#f4ab1d", "#f8e11a", "#cdd834", "#a3c93a", "#5cb849", "#14a94f", "#6a3fa2", "#6c40a4"], "interpolate": "rgb", "clamp": true, "zero": false, "nice": false},
         "legend": null}
     }},
    {"data": {"name": "strip"},
     "mark": {"type": "rect", "binSpacing": 0, "strokeWidth": 0.5},
     "encoding": {
       "x": {"field": "t", "type": "quantitative", "bin": {"step": 2, "extent": [0, 10], "nice": false}, "title": "time [d]"},
       "y": {"field": "d", "type": "quantitative", "bin": {"step": 3, "extent": [-60, 0], "nice": false}, "title": "column depth [cm]"},
       "color": {"field": "o", "type": "quantitative"},
       "stroke": {"field": "o", "type": "quantitative", "legend": null}
     }}
  ]},
  {"layer": [
    {"data": {"name": "pyr"},
     "mark": {"type": "rule", "color": "#c8401e", "strokeWidth": 2},
     "encoding": {
       "y": {"field": "v", "type": "quantitative", "scale": {"domain": [0, 2], "nice": false, "zero": false}, "title": "cumulative iron release [mol]",
             "axis": {"orient": "right", "values": [0, 0.25, 0.5, 0.75, 1, 1.25, 1.5, 1.75, 2], "labelExpr": "'' + datum.value", "labelFontSize": 18, "labelPadding": 4, "titlePadding": 29, "titleAngle": -90, "titleBaseline": "top", "titleFontSize": 24, "labelOverlap": false}}
     }},
    {"data": {"name": "lab"},
     "mark": {"type": "text", "align": "left", "baseline": "middle", "fontStyle": "italic", "fontSize": 20, "font": "Liberation Sans", "color": "#1a1a1a"},
     "encoding": {
       "x": {"field": "t", "type": "quantitative", "title": "time [d]"},
       "y": {"field": "v", "type": "quantitative", "title": "cumulative iron release [mol]",
             "axis": {"orient": "right", "values": [0, 0.25, 0.5, 0.75, 1, 1.25, 1.5, 1.75, 2], "labelExpr": "'' + datum.value", "labelFontSize": 18, "labelPadding": 4, "titlePadding": 29, "titleAngle": -90, "titleBaseline": "top", "titleFontSize": 24, "labelOverlap": false}},
       "text": {"field": "label"}
     }},
    {"data": {"name": "iron"},
     "mark": {"type": "line", "color": "black", "strokeWidth": 2.5},
     "encoding": {
       "x": {"field": "t", "type": "quantitative", "title": "time [d]"},
       "y": {"field": "v", "type": "quantitative", "title": "cumulative iron release [mol]",
             "axis": {"orient": "right", "values": [0, 0.25, 0.5, 0.75, 1, 1.25, 1.5, 1.75, 2], "labelExpr": "'' + datum.value", "labelFontSize": 18, "labelPadding": 4, "titlePadding": 29, "titleAngle": -90, "titleBaseline": "top", "titleFontSize": 24, "labelOverlap": false}}
     }},
    {"data": {"name": "iron"},
     "mark": {"type": "point", "filled": true, "color": "black", "size": 40, "opacity": 1},
     "encoding": {
       "x": {"field": "t", "type": "quantitative", "title": "time [d]"},
       "y": {"field": "v", "type": "quantitative", "title": "cumulative iron release [mol]",
             "axis": {"orient": "right", "values": [0, 0.25, 0.5, 0.75, 1, 1.25, 1.5, 1.75, 2], "labelExpr": "'' + datum.value", "labelFontSize": 18, "labelPadding": 4, "titlePadding": 29, "titleAngle": -90, "titleBaseline": "top", "titleFontSize": 24, "labelOverlap": false}}
     }}
  ]}
],
"resolve": {"scale": {"y": "independent"}, "axis": {"y": "independent"}}
}
